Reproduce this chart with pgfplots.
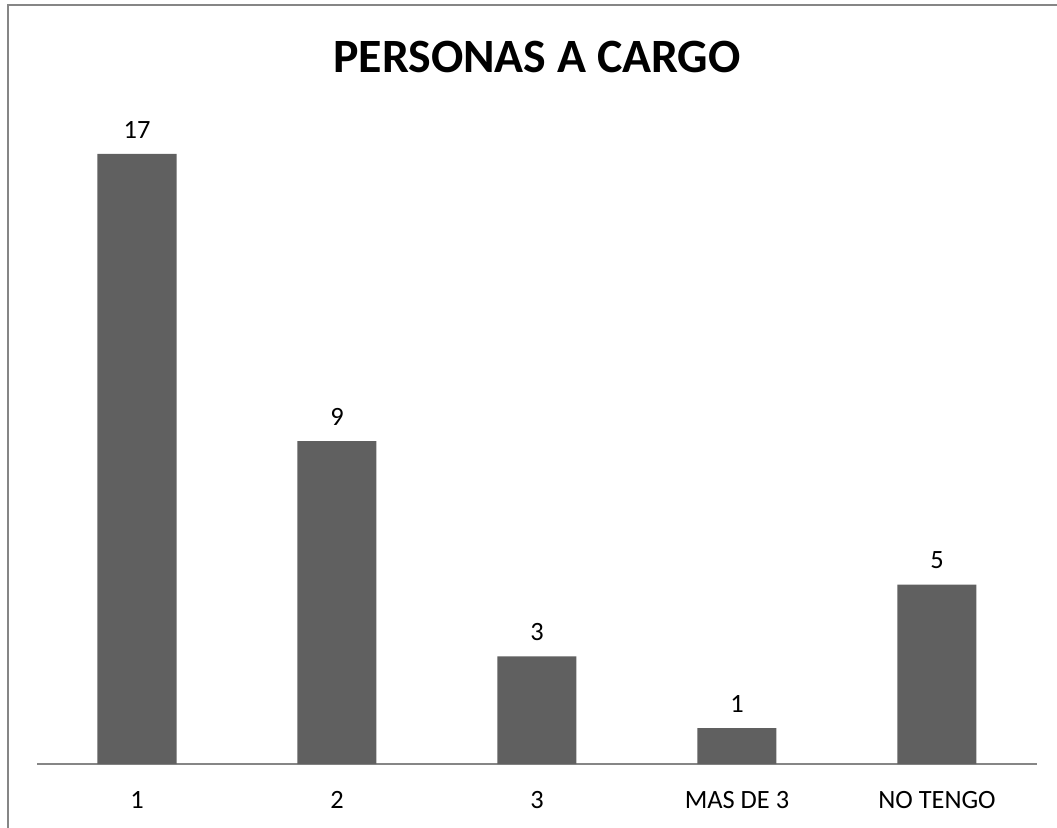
\documentclass[border=0pt]{standalone}
\usepackage{pgfplots}
\pgfplotsset{compat=1.18}
\usepackage{fontspec}
\setmainfont{Carlito}
\definecolor{barfill}{HTML}{606060}
\definecolor{framegray}{HTML}{868686}
\begin{document}
\begin{tikzpicture}[x=1bp,y=1bp]
\useasboundingbox (0,0) rectangle (1057,-828);
\draw[framegray, line width=2.5bp] (8,-828) -- (8,-5) -- (1057,-5);
\node[font=\fontsize{48}{52}\selectfont\bfseries] at (537,-57) {PERSONAS A CARGO};
\begin{axis}[
  at={(37bp,-764bp)}, anchor=south west,
  scale only axis, width=1000bp, height=646bp,
  xmin=-0.5, xmax=4.5, ymin=0, ymax=18,
  axis x line=bottom, axis y line=none,
  axis line style={framegray, line width=1.5bp, -},
  xtick={0,1,2,3,4},
  xticklabels={1,2,3,MAS DE 3,NO TENGO},
  major tick length=0pt,
  xticklabel style={font=\fontsize{26.5}{30}\selectfont, anchor=center, yshift=-36bp},
  ybar, bar width=79bp,
  nodes near coords,
  nodes near coords style={font=\fontsize{26.5}{30}\selectfont, anchor=center, yshift=24bp,
    /pgf/number format/assume math mode=true},
]
\addplot[fill=barfill, draw=none] coordinates {(0,17) (1,9) (2,3) (3,1) (4,5)};
\end{axis}
\end{tikzpicture}
\end{document}
